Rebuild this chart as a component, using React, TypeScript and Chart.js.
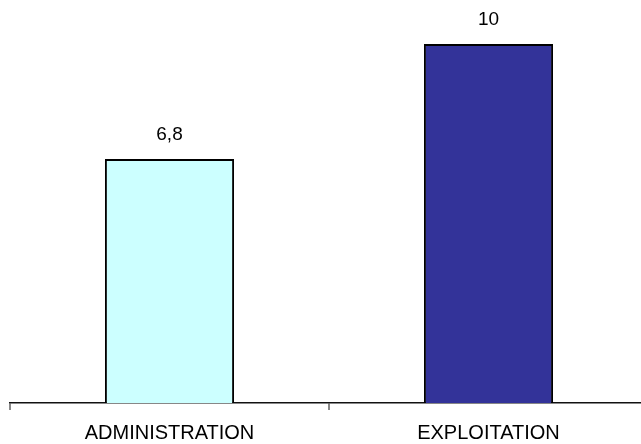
import React, { useEffect, useRef } from "react";
import { Chart, registerables } from "chart.js";

Chart.register(...registerables);

const categories = ["ADMINISTRATION", "EXPLOITATION"];
const values = [6.8, 10];
const valueLabels = ["6,8", "10"];
const barColors = ["#CCFFFF", "#333399"];

const FONT = "'Liberation Sans', Arial, sans-serif";

// Draws the value above each bar
const valueLabelPlugin = {
  id: "valueLabels",
  afterDatasetsDraw(chart: any) {
    const { ctx } = chart;
    const meta = chart.getDatasetMeta(0);
    ctx.save();
    ctx.font = `19px ${FONT}`;
    ctx.fillStyle = "#000";
    ctx.textAlign = "center";
    ctx.textBaseline = "middle";
    meta.data.forEach((bar: any, i: number) => {
      ctx.fillText(valueLabels[i], bar.x, bar.y - 24);
    });
    ctx.restore();
  },
};

export default function App() {
  const canvasRef = useRef<HTMLCanvasElement>(null);

  useEffect(() => {
    if (!canvasRef.current) return;
    const chart = new Chart(canvasRef.current, {
      type: "bar",
      data: {
        labels: categories,
        datasets: [
          {
            data: values,
            backgroundColor: barColors,
            borderColor: "#000",
            borderWidth: 2,
            barPercentage: 0.405,
            categoryPercentage: 1,
          },
        ],
      },
      options: {
        animation: false,
        responsive: false,
        maintainAspectRatio: false,
        layout: { padding: { top: 44, left: 10, right: 12, bottom: 0 } },
        plugins: { legend: { display: false }, tooltip: { enabled: false } },
        scales: {
          x: {
            offset: true,
            grid: {
              display: true,
              offset: true,
              drawOnChartArea: false,
              drawTicks: true,
              tickLength: 7,
              lineWidth: 2,
              color: "#888",
            },
            border: { display: true, color: "#111", width: 1.5 },
            ticks: {
              color: "#000",
              font: { family: FONT, size: 20, lineHeight: 1.2 },
              padding: 11,
              maxRotation: 0,
            },
          },
          y: {
            display: false,
            min: 0,
            max: 10,
          },
        },
      },
      plugins: [valueLabelPlugin],
    });
    return () => chart.destroy();
  }, []);

  return (
    <div
      style={{
        position: "fixed",
        top: 0,
        left: 0,
        width: 641,
        height: 444,
        overflow: "hidden",
        background: "#fff",
      }}
    >
      <canvas ref={canvasRef} width={660} height={456} style={{ display: "block" }} />
    </div>
  );
}
